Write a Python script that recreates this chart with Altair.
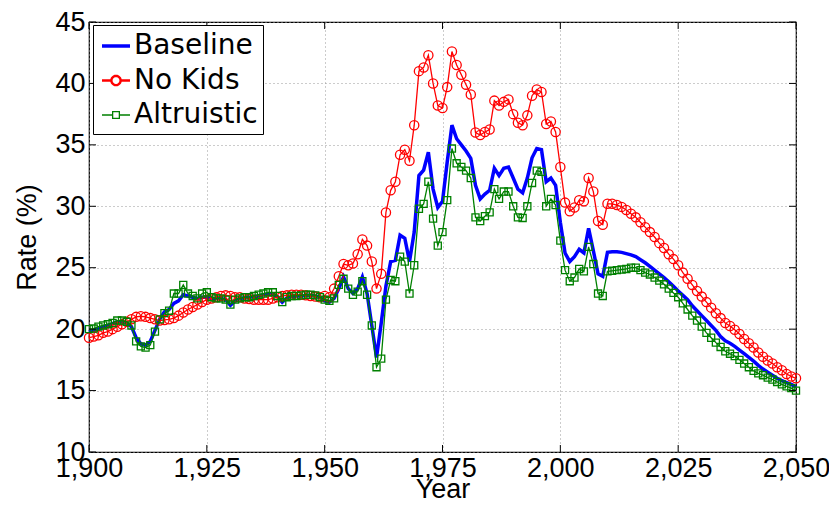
import math
import altair as alt
import pandas as pd

years = list(range(1900, 2051))

baseline = [
    19.8, 19.9, 20.0, 20.2, 20.3, 20.45, 20.6, 20.6, 20.5, 20.2,
    19.3, 18.8, 18.7, 19.0, 19.9, 20.8, 21.4, 21.6, 22.1, 22.3,
    22.8, 22.7, 22.6, 22.5, 22.6, 22.6, 22.5, 22.5, 22.5, 22.4,
    21.95, 22.3, 22.5, 22.55, 22.6, 22.65, 22.7, 22.8, 22.85, 22.85,
    22.65, 22.2, 22.55, 22.65, 22.7, 22.7, 22.75, 22.75, 22.7, 22.6,
    22.3, 22.2, 22.5, 23.3, 24.25, 23.3, 22.9, 23.3, 24.25, 22.9,
    20.3, 17.7, 20.5, 23.5, 25.5, 25.6, 27.65, 27.4, 25.5, 27.9,
    32.5, 32.95, 34.4, 31.4, 29.9, 30.4, 33.6, 36.6, 35.5, 35.0,
    34.5, 33.9, 31.7, 30.6, 31.0, 31.3, 33.1, 32.5, 33.1, 33.2,
    32.3, 31.4, 31.1, 32.3, 33.95, 34.7, 34.6, 32.0, 32.3, 31.7,
    28.7, 26.2, 25.5, 25.9, 26.5, 26.2, 28.2, 26.4, 24.5, 24.3,
    26.25, 26.3, 26.3, 26.25, 26.15, 26.05, 25.9, 25.65, 25.4, 25.1,
    24.8, 24.5, 24.2, 23.85, 23.5, 23.1, 22.75, 22.4, 21.9, 21.5,
    21.1, 20.7, 20.3, 19.9, 19.4, 19.05, 18.85, 18.6, 18.3, 18.0,
    17.7, 17.4, 17.05, 16.75, 16.5, 16.25, 16.0, 15.8, 15.65, 15.5,
    15.3,
]

no_kids = [
    19.3, 19.4, 19.5, 19.7, 19.8, 20.0, 20.2, 20.4, 20.6, 20.8,
    21.0, 21.05, 21.0, 20.9, 20.8, 20.7, 20.75, 20.8, 20.9, 21.1,
    21.35, 21.6, 21.8, 22.0, 22.2, 22.4, 22.5, 22.6, 22.7, 22.75,
    22.7, 22.6, 22.6, 22.5, 22.45, 22.4, 22.4, 22.4, 22.4, 22.5,
    22.6, 22.7, 22.75, 22.8, 22.8, 22.8, 22.75, 22.7, 22.65, 22.6,
    22.7, 22.6, 23.3, 24.3, 25.3, 25.2, 25.35, 26.1, 27.3, 26.8,
    25.5, 23.3, 24.5, 29.5, 31.3, 32.0, 34.2, 34.6, 33.7, 36.6,
    41.0, 41.3, 42.3, 40.0, 38.2, 38.0, 39.7, 42.6, 41.5, 40.7,
    39.9, 39.1, 36.0, 35.8, 36.05, 36.25, 38.6, 38.2, 38.5, 38.7,
    37.5, 36.8, 36.6, 37.4, 39.0, 39.5, 39.3, 36.7, 36.9, 36.05,
    33.2, 30.3, 29.6, 29.9, 30.5, 30.4, 32.3, 31.2, 28.8, 28.5,
    30.2, 30.2, 30.1, 29.95, 29.7, 29.4, 29.1, 28.7, 28.3, 27.9,
    27.5, 27.0, 26.6, 26.1, 25.7, 25.2, 24.6, 24.1, 23.6, 23.1,
    22.65, 22.2, 21.75, 21.3, 20.9, 20.5, 20.25, 19.95, 19.6, 19.2,
    18.85, 18.5, 18.1, 17.75, 17.45, 17.2, 16.9, 16.65, 16.35, 16.15,
    16.0,
]

altruistic = [
    20.0, 20.05, 20.2, 20.3, 20.4, 20.5, 20.7, 20.7, 20.6, 20.3,
    19.0, 18.6, 18.5, 18.7, 19.8, 20.8, 21.3, 21.5, 22.9, 22.9,
    23.6, 22.9, 22.7, 22.5, 22.9, 23.0, 22.6, 22.5, 22.5, 22.4,
    22.0, 22.4, 22.5, 22.6, 22.6, 22.7, 22.8, 22.9, 23.0, 23.0,
    22.7, 22.2, 22.6, 22.7, 22.7, 22.75, 22.8, 22.8, 22.75, 22.6,
    22.4, 22.3, 22.5, 23.6, 24.1, 23.3, 22.8, 23.05, 23.9, 22.8,
    20.3, 16.9, 17.6, 22.4, 24.0, 23.9, 25.9, 25.5, 22.9, 25.2,
    29.8, 30.2, 32.0, 29.0, 26.8, 27.9, 30.5, 34.7, 33.5, 33.2,
    32.9, 32.3, 29.1, 28.8, 29.2, 29.5, 31.4, 30.6, 31.2, 31.2,
    30.0, 29.1, 29.05, 30.0, 31.9, 32.9, 32.8, 30.0, 30.6, 30.1,
    27.2, 24.8, 23.9, 24.2, 24.9, 24.7, 26.7, 25.3, 22.9, 22.7,
    24.7, 24.75, 24.8, 24.85, 24.9, 25.0, 25.0, 24.8, 24.6, 24.45,
    24.2, 23.95, 23.65, 23.3, 22.95, 22.6, 22.1, 21.6, 21.1, 20.7,
    20.2, 19.7, 19.3, 18.9, 18.55, 18.2, 18.0, 17.8, 17.5, 17.2,
    16.9, 16.6, 16.4, 16.25, 16.05, 15.9, 15.7, 15.5, 15.35, 15.2,
    15.0,
]

series_names = ["Baseline", "No Kids", "Altruistic"]
series_colors = ["#0000ff", "#ff0000", "#008000"]
x_ticks = [1900, 1925, 1950, 1975, 2000, 2025, 2050]
y_ticks = [10, 15, 20, 25, 30, 35, 40, 45]

rows = []
for name, vals in zip(series_names, [baseline, no_kids, altruistic]):
    for yr, v in zip(years, vals):
        rows.append({"Year": yr, "Rate": v, "Series": name})
df = pd.DataFrame(rows)

W, H = 707, 430
FONT = "Liberation Sans"
LEG_FONT = "DejaVu Sans"

xs = alt.Scale(domain=[1900, 2050], nice=False, zero=False)
ys = alt.Scale(domain=[10, 45], nice=False, zero=False)

x_axis = alt.Axis(values=x_ticks, format=",d", labelFontSize=27, labelFont=FONT,
                  labelColor="black", labelPadding=3, ticks=False, domain=False,
                  grid=True, gridColor="#999999", gridDash=[1, 3], gridWidth=1,
                  title="Year", titleFontSize=27, titleFont=FONT, titleFontWeight="normal",
                  titleColor="black", titleBaseline="alphabetic", titleY=45,
                  labelFlush=False, labelOverlap=False)
y_axis = alt.Axis(values=y_ticks, labelFontSize=27, labelFont=FONT,
                  labelColor="black", labelPadding=4, ticks=False, domain=False,
                  grid=True, gridColor="#999999", gridDash=[1, 3], gridWidth=1,
                  title="Rate (%)", titleFontSize=27, titleFont=FONT, titleFontWeight="normal",
                  titleColor="black", titlePadding=13, labelFlush=False, labelOverlap=False)

base = alt.Chart(df)

x_enc = alt.X("Year:Q", scale=xs, axis=x_axis)
y_enc = alt.Y("Rate:Q", scale=ys, axis=y_axis)

blue_line = base.transform_filter(alt.datum.Series == "Baseline").mark_line(
    color="#0000ff", strokeWidth=3.5).encode(x=x_enc, y=y_enc)
red_line = base.transform_filter(alt.datum.Series == "No Kids").mark_line(
    color="#ff0000", strokeWidth=1.3).encode(x="Year:Q", y="Rate:Q")
red_pts = base.transform_filter(alt.datum.Series == "No Kids").mark_point(
    shape="circle", filled=False, color="#ff0000", size=85, strokeWidth=1.3,
    opacity=1).encode(x="Year:Q", y="Rate:Q")
green_line = base.transform_filter(alt.datum.Series == "Altruistic").mark_line(
    color="#008000", strokeWidth=1.3).encode(x="Year:Q", y="Rate:Q")
green_pts = base.transform_filter(alt.datum.Series == "Altruistic").mark_point(
    shape="square", filled=False, color="#008000", size=50, strokeWidth=1.3,
    opacity=1).encode(x="Year:Q", y="Rate:Q")

# inward tick marks on all four sides (MATLAB style box)
xt = pd.DataFrame({"t": x_ticks})
yt = pd.DataFrame({"t": y_ticks})
TL = 7
xt_bottom = alt.Chart(xt).mark_rule(color="black", strokeWidth=1).encode(
    x=alt.X("t:Q"), y=alt.value(H), y2=alt.value(H - TL))
xt_top = alt.Chart(xt).mark_rule(color="black", strokeWidth=1).encode(
    x=alt.X("t:Q"), y=alt.value(0), y2=alt.value(TL))
yt_left = alt.Chart(yt).mark_rule(color="black", strokeWidth=1).encode(
    y=alt.Y("t:Q"), x=alt.value(0), x2=alt.value(TL))
yt_right = alt.Chart(yt).mark_rule(color="black", strokeWidth=1).encode(
    y=alt.Y("t:Q"), x=alt.value(W - TL), x2=alt.value(W))

# legend symbols: line with marker
def circle_path(r, n=24):
    pts = []
    for i in range(n + 1):
        a = math.pi - 2 * math.pi * i / n
        pts.append(f"{r*math.cos(a):.3f},{r*math.sin(a):.3f}")
    return "M-1,0L" + "L".join(pts) + f"M{r:.3f},0L1,0"

sq = 0.24
line_path = "M-1,0L1,0"
circ_path = circle_path(0.33)
sq_path = (f"M-1,0L{-sq},0L{-sq},{-sq}L{sq},{-sq}L{sq},{sq}L{-sq},{sq}L{-sq},0"
           f"M{sq},0L1,0")

leg = alt.Legend(title=None, orient="none", legendX=4, legendY=3,
                 fillColor="white", strokeColor="black", padding=5,
                 labelFont=LEG_FONT, labelFontSize=28, labelColor="black",
                 labelOffset=2, rowPadding=5, symbolSize=784, symbolOffset=2,
                 labelLimit=300)
leg_df = pd.DataFrame({"Series": series_names})
legend_layer = alt.Chart(leg_df).mark_point(filled=False, size=784, opacity=1, clip=True).encode(
    x=alt.value(-3000), y=alt.value(-3000),
    color=alt.Color("Series:N", scale=alt.Scale(domain=series_names, range=series_colors), legend=leg),
    shape=alt.Shape("Series:N", scale=alt.Scale(domain=series_names, range=[line_path, circ_path, sq_path]), legend=leg),
    strokeWidth=alt.StrokeWidth("Series:N", scale=alt.Scale(domain=series_names, range=[3.5, 1.3, 1.3]), legend=leg),
)

chart = alt.layer(
    blue_line, red_line, red_pts, green_line, green_pts,
    xt_bottom, xt_top, yt_left, yt_right, legend_layer,
).properties(
    width=W, height=H,
    autosize=alt.AutoSizeParams(type="none"),
    padding={"left": 81, "top": 14, "right": 33, "bottom": 46},
    background="white",
).configure_view(
    stroke="black", strokeWidth=1.2
)

chart.save("out.html", embed_options={"renderer": "svg", "actions": False})
